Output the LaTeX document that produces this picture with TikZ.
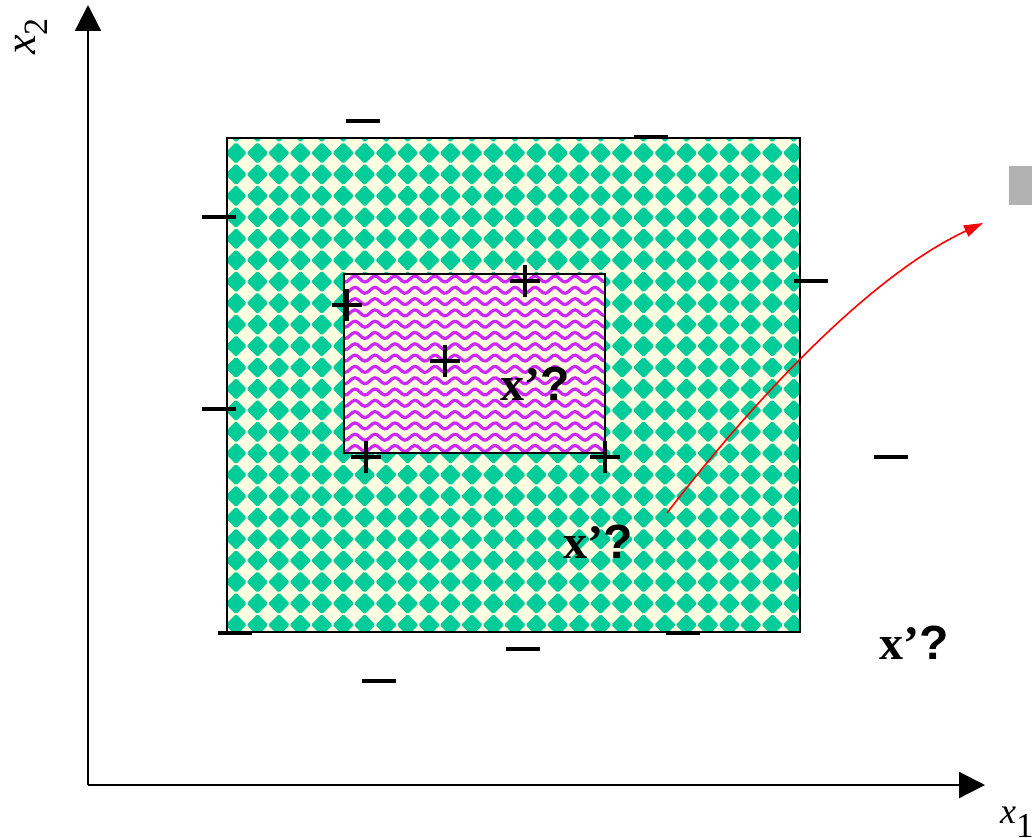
\documentclass[tikz,border=0pt]{standalone}
\usepackage{fontspec}
\setmainfont{Liberation Serif}
\newfontfamily\sansfam{Liberation Sans}
\usetikzlibrary{arrows.meta}
\definecolor{cream}{RGB}{255,255,226}
\definecolor{dgreen}{RGB}{0,204,153}
\definecolor{wavec}{RGB}{205,40,255}
\definecolor{boxgrey}{RGB}{178,178,178}
\tikzset{
  axis/.style={line width=2.2pt, -{Triangle[length=26pt,width=26pt]}},
  minussign/.style={fill=black, inner sep=0, minimum width=34, minimum height=3.8},
  signline/.style={line width=3.2pt, black},
  qlabel/.style={anchor=base west, inner sep=0, font=\fontsize{48}{50}\selectfont},
  redarrow/.style={red, line width=1.6pt, -{Triangle[length=19pt,width=12pt]}},
  plussign/.pic={\draw[signline] (-15,0) -- (15,0) (0,-16) -- (0,16);}
}
\begin{document}
\begin{tikzpicture}[x=1pt,y=-1pt]
\useasboundingbox (0,0) rectangle (1032,837);
% outer patterned rectangle
\begin{scope}
  \clip (227,138) rectangle (800,632);
  \fill[cream] (227,138) rectangle (800,632);
  \foreach \i in {0,...,27}{
    \foreach \j in {-1,...,23}{
      \pgfmathsetmacro\cx{236+21.45*\i}
      \pgfmathsetmacro\cy{153+21.45*\j}
      \fill[dgreen, rounded corners=1.5pt] ({\cx-10.8},\cy) -- (\cx,{\cy-10.8}) -- ({\cx+10.8},\cy) -- (\cx,{\cy+10.8}) -- cycle;
    }
  }
\end{scope}
\draw[line width=2.4pt] (227,138) rectangle (800,632);
% inner wavy rectangle
\begin{scope}
  \clip (344,274) rectangle (605,453);
  \fill[cream] (344,274) rectangle (605,453);
  \foreach \k in {0,...,16}{
    \draw[wavec, line width=3.2pt] plot[domain=340:610, samples=110, smooth] (\x, {279+11.3*\k + 3*sin(18*\x)});
  }
\end{scope}
\draw[line width=1.8pt] (344,274) rectangle (605,453);
% axes
\coordinate (O) at (88,785);
\coordinate (Ytip) at (88,5);
\coordinate (Xtip) at (985,785);
\draw[axis] (O) -- (Ytip);
\draw[axis] (O) -- (Xtip);
\node[rotate=90, anchor=base west, inner sep=0] (x2lab) at (35,55)
  {\fontsize{44}{44}\selectfont\itshape x\raisebox{-12pt}{\fontsize{34}{34}\selectfont\upshape 2}};
\node[anchor=base west, inner sep=0] (x1lab) at (1000,823)
  {\fontsize{36}{36}\selectfont\itshape x\raisebox{-14pt}{\fontsize{35}{35}\selectfont\upshape 1}};
% grey box
\fill[boxgrey] (1009,166) rectangle (1032,205);
% minus signs
\foreach \n/\px/\py in {m1/363/121, m2/651/137, m3/219/217, m4/811/281, m5/219/409, m6/891/457, m7/235/633, m8/523/649, m9/683/633, m10/379/681}{
  \node[minussign] (\n) at (\px,\py) {};
}
% plus signs
\foreach \px/\py in {347/305, 525/281, 445/361, 366/457, 605/457}{
  \pic at (\px,\py) {plussign};
}
% labels
\node[qlabel] (q1) at (500,400) {\bfseries x’\sansfam\bfseries ?};
\node[qlabel] (q2) at (563,558) {\bfseries x’\sansfam\bfseries ?};
\node[qlabel] (q3) at (879,659) {\bfseries x’\sansfam\bfseries ?};
% red arrow
\coordinate (A) at (667,513);
\coordinate (B) at (983,223);
\draw[redarrow] (A) .. controls (746,410) and (865,278) .. (B);
\end{tikzpicture}
\end{document}
